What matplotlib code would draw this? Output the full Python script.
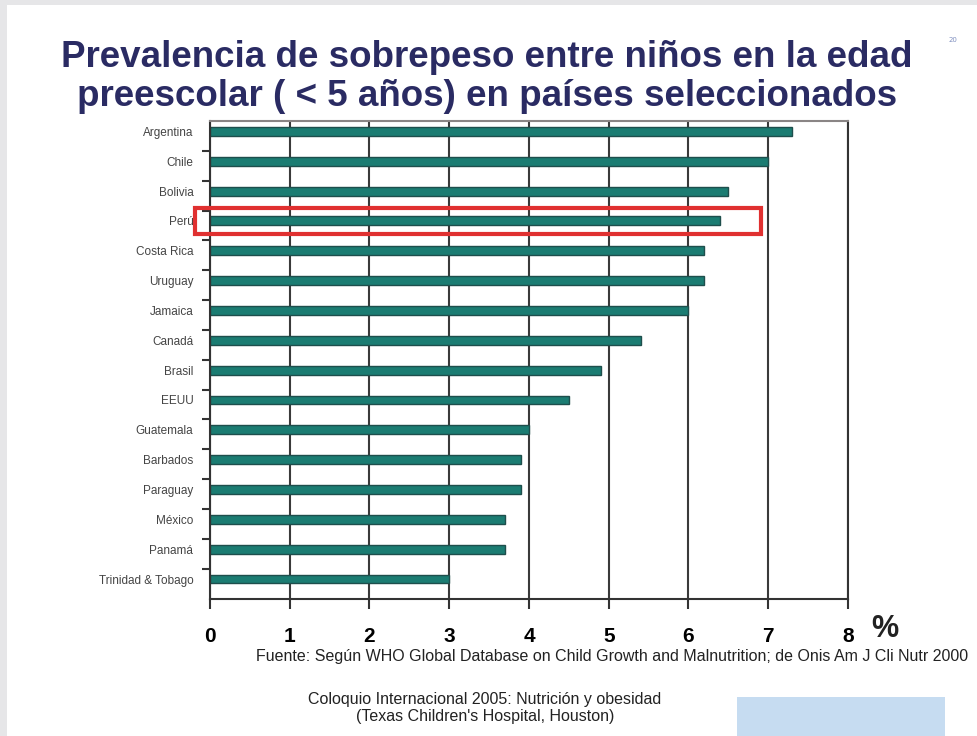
import numpy as np
import matplotlib.pyplot as plt
from matplotlib.patches import Rectangle

# data
countries = ['Argentina', 'Chile', 'Bolivia', 'Perú', 'Costa Rica', 'Uruguay',
             'Jamaica', 'Canadá', 'Brasil', 'EEUU', 'Guatemala', 'Barbados',
             'Paraguay', 'México', 'Panamá', 'Trinidad & Tobago']
prevalence = [7.3, 7.0, 6.5, 6.4, 6.2, 6.2, 6.0, 5.4, 4.9, 4.5, 4.0, 3.9, 3.9, 3.7, 3.7, 3.0]
xticks = [0, 1, 2, 3, 4, 5, 6, 7, 8]
highlight = 'Perú'

title = 'Prevalencia de sobrepeso entre niños en la edad\npreescolar ( < 5 años) en países seleccionados'
source = 'Fuente: Según WHO Global Database on Child Growth and Malnutrition; de Onis Am J Cli Nutr 2000'
event = 'Coloquio Internacional 2005: Nutrición y obesidad\n(Texas Children\'s Hospital, Houston)'

sans = ['Liberation Sans', 'DejaVu Sans']

fig = plt.figure(figsize=(9.78, 7.36), dpi=100)
fig.patch.set_facecolor('#e6e6e8')
# white slide
fig.patches.append(Rectangle((7/978, 0), 1, 1 - 5/736, transform=fig.transFigure,
                             facecolor='white', edgecolor='none', zorder=-3))
# pale blue box bottom right
fig.patches.append(Rectangle((737/978, 0), 208/978, 39/736, transform=fig.transFigure,
                             facecolor='#c6dcf1', edgecolor='none', zorder=-2))

ax = fig.add_axes([210/978, 1 - 599/736, 638/978, 478/736])
ax.set_facecolor('none')

y = np.arange(len(countries))
ax.barh(y, prevalence, height=0.3, color='#1b7c72', edgecolor='#1e4e4c', linewidth=1, zorder=2)

ax.set_xlim(0, 8)
ax.set_ylim(len(countries) - 0.33, -0.35)
ax.set_xticks(xticks)
ax.set_xticklabels([str(t) for t in xticks], family=sans, fontsize=15, fontweight='bold')
ax.tick_params(axis='x', direction='out', length=7, width=1.5, color='#333333', pad=13)
ax.grid(axis='x', color='#3a3a3a', linewidth=1.5, zorder=1)

ax.set_yticks(y)
ax.set_yticklabels(countries, family=sans, fontsize=8.5, color='#444444')
ax.tick_params(axis='y', length=0, pad=12)
ax.set_yticks(y[1:] - 0.35, minor=True)
ax.tick_params(axis='y', which='minor', length=6, width=1.5, color='#333333', direction='out')

for side in ['left', 'bottom', 'right']:
    ax.spines[side].set_color('#333333')
    ax.spines[side].set_linewidth(1.5)
ax.spines['top'].set_color('#8a8585')
ax.spines['top'].set_linewidth(1.5)

# red box round the highlighted country
k = countries.index(highlight)
ax.add_patch(Rectangle((-0.19, k - 0.44), 7.1, 0.88, fill=False, edgecolor='#e03030',
                       linewidth=3, clip_on=False, zorder=4))

fig.text(885/978, 1 - 629/736, '%', family=sans, fontsize=22, fontweight='bold',
         ha='center', va='center', color='#222222')

fig.text(487/978, 1 - 77/736, title, family=sans, fontsize=26.5, fontweight='bold',
         color='#2a2b63', ha='center', va='center', linespacing=1.15)
fig.text(953/978, 1 - 40/736, '20', fontsize=5, color='#8090c0', ha='center', va='center')

fig.text(968/978, 1 - 656/736, source, family=sans, fontsize=11.5, color='#222222',
         ha='right', va='center')
fig.text(485/978, 1 - 708/736, event, family=sans, fontsize=11.5, color='#222222',
         ha='center', va='center', linespacing=1.15)

fig.savefig('out.png', dpi=100)
